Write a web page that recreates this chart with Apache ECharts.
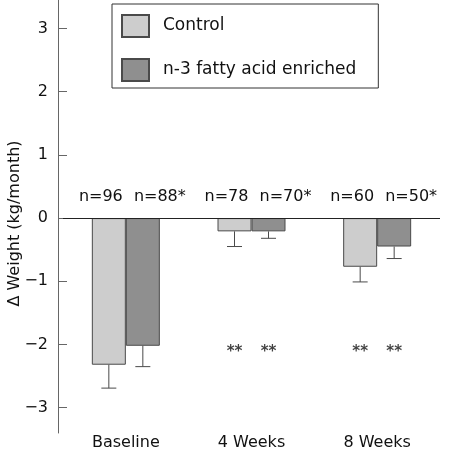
<!DOCTYPE html>
<html>
<head>
<meta charset="utf-8">
<script src="https://cdn.jsdelivr.net/npm/echarts@6/dist/echarts.min.js"></script>
<style>html,body{margin:0;padding:0;background:#fff}#c{width:450px;height:455px}</style>
</head>
<body>
<div id="c"></div>
<script>
const categories = ['Baseline', '4 Weeks', '8 Weeks'];
const seriesNames = ['Control', 'n-3 fatty acid enriched'];
const controlMean = [-2.32, -0.21, -0.77];
const controlErr = [0.37, 0.24, 0.24];
const enrichedMean = [-2.02, -0.21, -0.45];
const enrichedErr = [0.33, 0.11, 0.19];
const controlN = ['n=96', 'n=78', 'n=60'];
const enrichedN = ['n=88*', 'n=70*', 'n=50*'];
const starCategories = ['4 Weeks', '8 Weeks'];
const starLabel = '**';
const yTicks = [-3, -2, -1, 0, 1, 2, 3];

const FONT = 'DejaVu Sans';
const BAR_W = 34;
const STAR_Y = -2.12;
const colors = ['#cdcdcd', '#8f8f8f'];
const edge = '#4a4a4a';

function errSeries(means, errs, offset) {
  return {
    type: 'custom',
    silent: true,
    z: 5,
    data: means.map((m, i) => [i, m, m - errs[i]]),
    renderItem: function (params, api) {
      const p1 = api.coord([api.value(0), api.value(1)]);
      const p2 = api.coord([api.value(0), api.value(2)]);
      const x = p1[0] + offset;
      const style = { stroke: edge, lineWidth: 1 };
      return {
        type: 'group',
        children: [
          { type: 'line', shape: { x1: x, y1: p1[1], x2: x, y2: p2[1] }, style: style },
          { type: 'line', shape: { x1: x - 7.5, y1: p2[1], x2: x + 7.5, y2: p2[1] }, style: style }
        ]
      };
    }
  };
}

function starSeries(offset) {
  return {
    type: 'scatter',
    silent: true,
    symbolSize: 0,
    data: starCategories.map(c => [c, STAR_Y]),
    label: {
      show: true, position: 'inside', offset: [offset, 0],
      formatter: starLabel, fontFamily: FONT, fontSize: 15, fontWeight: 'bold', color: '#111'
    }
  };
}

function barSeries(name, values, labels, color, labelShift, withZeroLine) {
  const s = {
    name: name,
    type: 'bar',
    barWidth: BAR_W,
    barGap: 0,
    data: values,
    itemStyle: { color: color, borderColor: edge, borderWidth: 1 },
    label: {
      show: true, position: 'top', distance: 13, offset: [labelShift, 0],
      formatter: p => labels[p.dataIndex],
      fontFamily: FONT, fontSize: 16, color: '#111'
    }
  };
  if (withZeroLine) {
    s.markLine = {
      silent: true, symbol: 'none', label: { show: false },
      lineStyle: { color: '#222', width: 1, type: 'solid' },
      data: [{ yAxis: 0 }]
    };
  }
  return s;
}

const chart = echarts.init(document.getElementById('c'), null, { renderer: 'canvas' });
chart.setOption({
  animation: false,
  backgroundColor: '#fff',
  textStyle: { fontFamily: FONT },
  grid: { left: 63, right: 10, top: 0, bottom: 22, containLabel: false, outerBoundsMode: 'none' },
  legend: {
    data: seriesNames,
    orient: 'vertical',
    left: 112, top: 4,
    padding: [10, 22, 6, 9],
    itemGap: 20,
    itemWidth: 27, itemHeight: 22,
    icon: 'rect',
    borderColor: '#333', borderWidth: 1,
    textStyle: { fontFamily: FONT, fontSize: 17, color: '#111', padding: [0, 0, 0, 9] }
  },
  xAxis: {
    type: 'category',
    data: categories,
    axisLine: { show: false },
    axisTick: { show: false },
    axisLabel: { fontFamily: FONT, fontSize: 16, color: '#111', margin: 2 }
  },
  yAxis: {
    type: 'value',
    min: -3.4, max: 3.45,
    offset: 5,
    name: 'Δ Weight (kg/month)',
    nameLocation: 'middle',
    nameGap: 35,
    nameMoveOverlap: false,
    nameTextStyle: { fontFamily: FONT, fontSize: 16, color: '#111', padding: [0, 14, 0, 0] },
    axisLine: { show: true, lineStyle: { color: '#666', width: 1 } },
    axisTick: { show: true, inside: true, length: 9, customValues: yTicks, lineStyle: { color: '#666' } },
    axisLabel: {
      customValues: yTicks, margin: 10,
      fontFamily: FONT, fontSize: 16, color: '#111',
      formatter: v => String(v).replace('-', '\u2212')
    },
    splitLine: { show: false }
  },
  series: [
    barSeries(seriesNames[0], controlMean, controlN, colors[0], -8, true),
    barSeries(seriesNames[1], enrichedMean, enrichedN, colors[1], 17, false),
    errSeries(controlMean, controlErr, -BAR_W / 2),
    errSeries(enrichedMean, enrichedErr, BAR_W / 2),
    starSeries(-BAR_W / 2),
    starSeries(BAR_W / 2)
  ]
});
</script>
</body>
</html>
